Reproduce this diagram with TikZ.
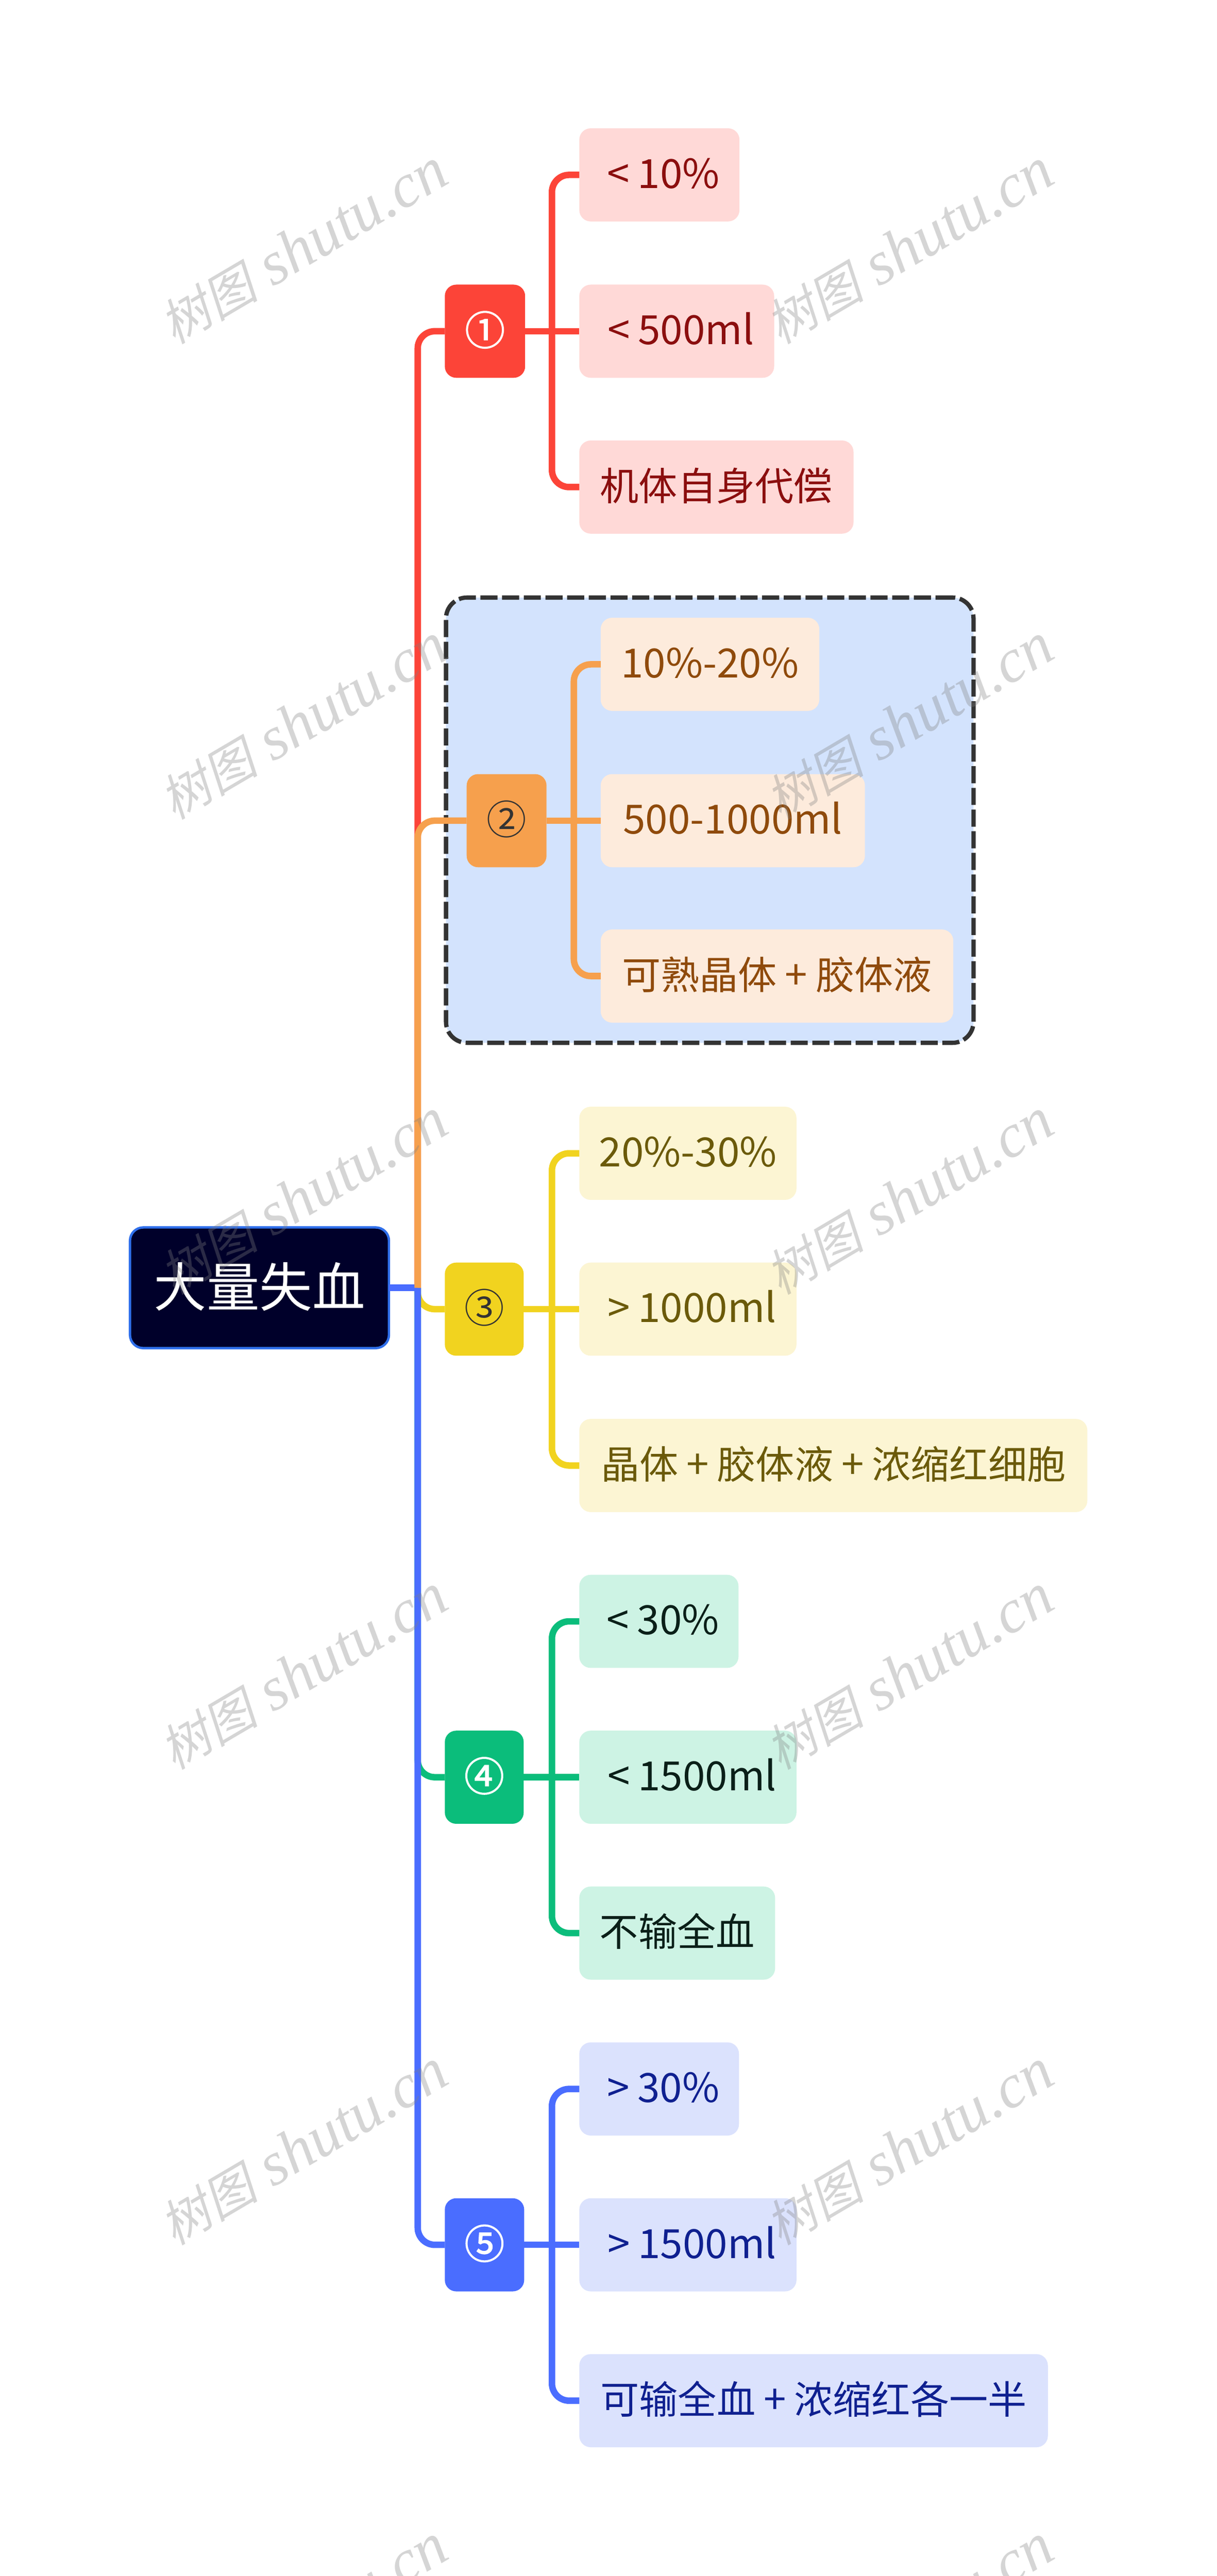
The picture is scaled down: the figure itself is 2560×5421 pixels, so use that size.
\documentclass[tikz,border=0pt]{standalone}
\usepackage{fontspec}
\setmainfont{Noto Sans CJK SC}
\newfontfamily\wmcjk[FakeSlant=0.22]{Noto Sans CJK SC}
\newfontfamily\numfont[FakeBold=2]{Noto Sans CJK SC}
\newfontfamily\wmlat{Liberation Serif}
\definecolor{cred}{HTML}{FC4438}
\definecolor{lred}{HTML}{FFD9D7}
\definecolor{tred}{HTML}{8B0E0E}
\definecolor{corange}{HTML}{F6A04D}
\definecolor{lorange}{HTML}{FDEBDC}
\definecolor{torange}{HTML}{8F4A0B}
\definecolor{cyellow}{HTML}{F1D31F}
\definecolor{lyellow}{HTML}{FCF5D3}
\definecolor{tyellow}{HTML}{6B5A0A}
\definecolor{cgreen}{HTML}{0BBD7B}
\definecolor{lgreen}{HTML}{CDF3E4}
\definecolor{tgreen}{HTML}{0A1F18}
\definecolor{cblue}{HTML}{4A6DFF}
\definecolor{lblue}{HTML}{DBE2FD}
\definecolor{tblue}{HTML}{0F2090}
\definecolor{rootfill}{HTML}{00002A}
\definecolor{rootedge}{HTML}{2F6FEB}
\definecolor{grpfill}{HTML}{D3E3FD}
\definecolor{grpedge}{HTML}{333333}
\tikzset{
  wide/.style={minimum width=#1*0.25pt},
  tall/.style={minimum height=#1*0.25pt},
  base/.style={rectangle,inner sep=0pt,outer sep=0pt,anchor=west,tall=196,rounded corners=6pt},
  leaf/.style 2 args={base,fill=#1,text=#2,font=\fontsize{20.4}{24}\selectfont,text height=17pt,text depth=3pt},
  numbox/.style 2 args={base,fill=#1,text=#2,font=\fontsize{21}{24}\selectfont,text height=17.5pt,text depth=3pt},
  numboxw/.style={numbox={#1}{white},font=\numfont\fontsize{21}{24}\selectfont},
  rootbox/.style={rectangle,inner sep=0pt,outer sep=0pt,anchor=west,wide=545,tall=254,rounded corners=7pt,fill=rootfill,draw=rootedge,line width=1.25pt,text=white,font=\fontsize{27.8}{32}\selectfont,text height=23.5pt,text depth=3.3pt},
  groupbox/.style={rectangle,inner sep=0pt,outer sep=0pt,anchor=north west,fill=grpfill,draw=grpedge,line width=2.25pt,dash pattern=on 9pt off 2.4pt,rounded corners=11pt},
  conn/.style={line width=3.4pt,rounded corners=9pt},
  mark wm/.style={rotate=30.5,text=gray,text opacity=0.33,inner sep=0pt,font=\fontsize{26}{28}\selectfont},
}
\newcommand{\wmtext}{{\wmcjk 树图}{\wmlat\itshape\fontsize{32.5}{34}\selectfont{} shutu.cn}}
\newcommand{\Lat}[1]{{\fontsize{21.2}{24}\selectfont #1}}
\newcommand{\Cell}[1]{\makebox[20.3pt]{#1}}
\begin{document}
\begin{tikzpicture}[x=0.25pt,y=-0.25pt]
\clip (0,0) rectangle (2560,5421);
\fill[white] (0,0) rectangle (2560,5421);

% group frame behind branch 2
\node[groupbox,wide=1110,tall=937] (grp) at (938.5,1257.5) {};

% root
\node[rootbox] (root) at (273.5,2710) {大量失血};

% level 1
\node[numboxw={cred},wide=169] (n1) at (936,697) {①};
\node[numbox={corange}{grpedge},wide=168] (n2) at (982,1727) {②};
\node[numbox={cyellow}{grpedge},wide=166] (n3) at (936,2755) {③};
\node[numboxw={cgreen},wide=166] (n4) at (936,3740) {④};
\node[numboxw={cblue},wide=167] (n5) at (936,4724) {⑤};

% leaves
\node[leaf={lred}{tred},wide=337] (a1) at (1219,368) {\Cell{\Lat{<}}\Lat{10\%}};
\node[leaf={lred}{tred},wide=410] (a2) at (1219,697) {\Cell{\Lat{<}}\Lat{500ml}};
\node[leaf={lred}{tred},wide=577] (a3) at (1219,1025) {机体自身代偿};

\node[leaf={lorange}{torange},wide=460] (b1) at (1264,1398) {\Lat{10\%-20\%}};
\node[leaf={lorange}{torange},wide=556] (b2) at (1264,1727) {\Lat{500-1000ml}};
\node[leaf={lorange}{torange},wide=742] (b3) at (1264,2054) {可熟晶体\Cell{\Lat{+}}胶体液};

\node[leaf={lyellow}{tyellow},wide=457] (c1) at (1219,2427) {\Lat{20\%-30\%}};
\node[leaf={lyellow}{tyellow},wide=457] (c2) at (1219,2755) {\Cell{\Lat{>}}\Lat{1000ml}};
\node[leaf={lyellow}{tyellow},wide=1069] (c3) at (1219,3084) {晶体\Cell{\Lat{+}}胶体液\Cell{\Lat{+}}浓缩红细胞};

\node[leaf={lgreen}{tgreen},wide=335] (d1) at (1219,3412) {\Cell{\Lat{<}}\Lat{30\%}};
\node[leaf={lgreen}{tgreen},wide=457] (d2) at (1219,3740) {\Cell{\Lat{<}}\Lat{1500ml}};
\node[leaf={lgreen}{tgreen},wide=412] (d3) at (1219,4068) {不输全血};

\node[leaf={lblue}{tblue},wide=336] (e1) at (1219,4396) {\Cell{\Lat{>}}\Lat{30\%}};
\node[leaf={lblue}{tblue},wide=457] (e2) at (1219,4724) {\Cell{\Lat{>}}\Lat{1500ml}};
\node[leaf={lblue}{tblue},wide=986] (e3) at (1219,5052) {可输全血\Cell{\Lat{+}}浓缩红各一半};

% junction points
\coordinate (trunk) at (879,2710);
\coordinate (sa) at (1161.5,697);
\coordinate (sb) at (1207.5,1727);
\coordinate (sc) at (1161.5,2755);
\coordinate (sd) at (1161.5,3740);
\coordinate (se) at (1161.5,4724);

% trunk connectors, in stacking order
\draw[conn,cred] (trunk) |- (n1.west);
\draw[conn,cyellow] (trunk) |- (n3.west);
\draw[conn,cgreen] (trunk) |- (n4.west);
\draw[line width=3.4pt,cblue] (root.east) -- (trunk);
\draw[conn,cblue] (trunk) |- (n5.west);
\draw[conn,corange] (trunk) |- (n2.west);

% branch connectors
\draw[conn,cred] (sa) |- (a1.west);
\draw[conn,cred] (n1.east) -- (a2.west);
\draw[conn,cred] (sa) |- (a3.west);
\draw[conn,corange] (sb) |- (b1.west);
\draw[conn,corange] (n2.east) -- (b2.west);
\draw[conn,corange] (sb) |- (b3.west);
\draw[conn,cyellow] (sc) |- (c1.west);
\draw[conn,cyellow] (n3.east) -- (c2.west);
\draw[conn,cyellow] (sc) |- (c3.west);
\draw[conn,cgreen] (sd) |- (d1.west);
\draw[conn,cgreen] (n4.east) -- (d2.west);
\draw[conn,cgreen] (sd) |- (d3.west);
\draw[conn,cblue] (se) |- (e1.west);
\draw[conn,cblue] (n5.east) -- (e2.west);
\draw[conn,cblue] (se) |- (e3.west);

% watermark
\node[mark wm] (w11) at (638,519) {\wmtext};
\node[mark wm] (w12) at (1913,519) {\wmtext};
\node[mark wm] (w21) at (638,1519) {\wmtext};
\node[mark wm] (w22) at (1913,1519) {\wmtext};
\node[mark wm] (w31) at (638,2519) {\wmtext};
\node[mark wm] (w32) at (1913,2519) {\wmtext};
\node[mark wm] (w41) at (638,3519) {\wmtext};
\node[mark wm] (w42) at (1913,3519) {\wmtext};
\node[mark wm] (w51) at (638,4519) {\wmtext};
\node[mark wm] (w52) at (1913,4519) {\wmtext};
\node[mark wm] (w61) at (638,5519) {\wmtext};
\node[mark wm] (w62) at (1913,5519) {\wmtext};
\end{tikzpicture}
\end{document}
